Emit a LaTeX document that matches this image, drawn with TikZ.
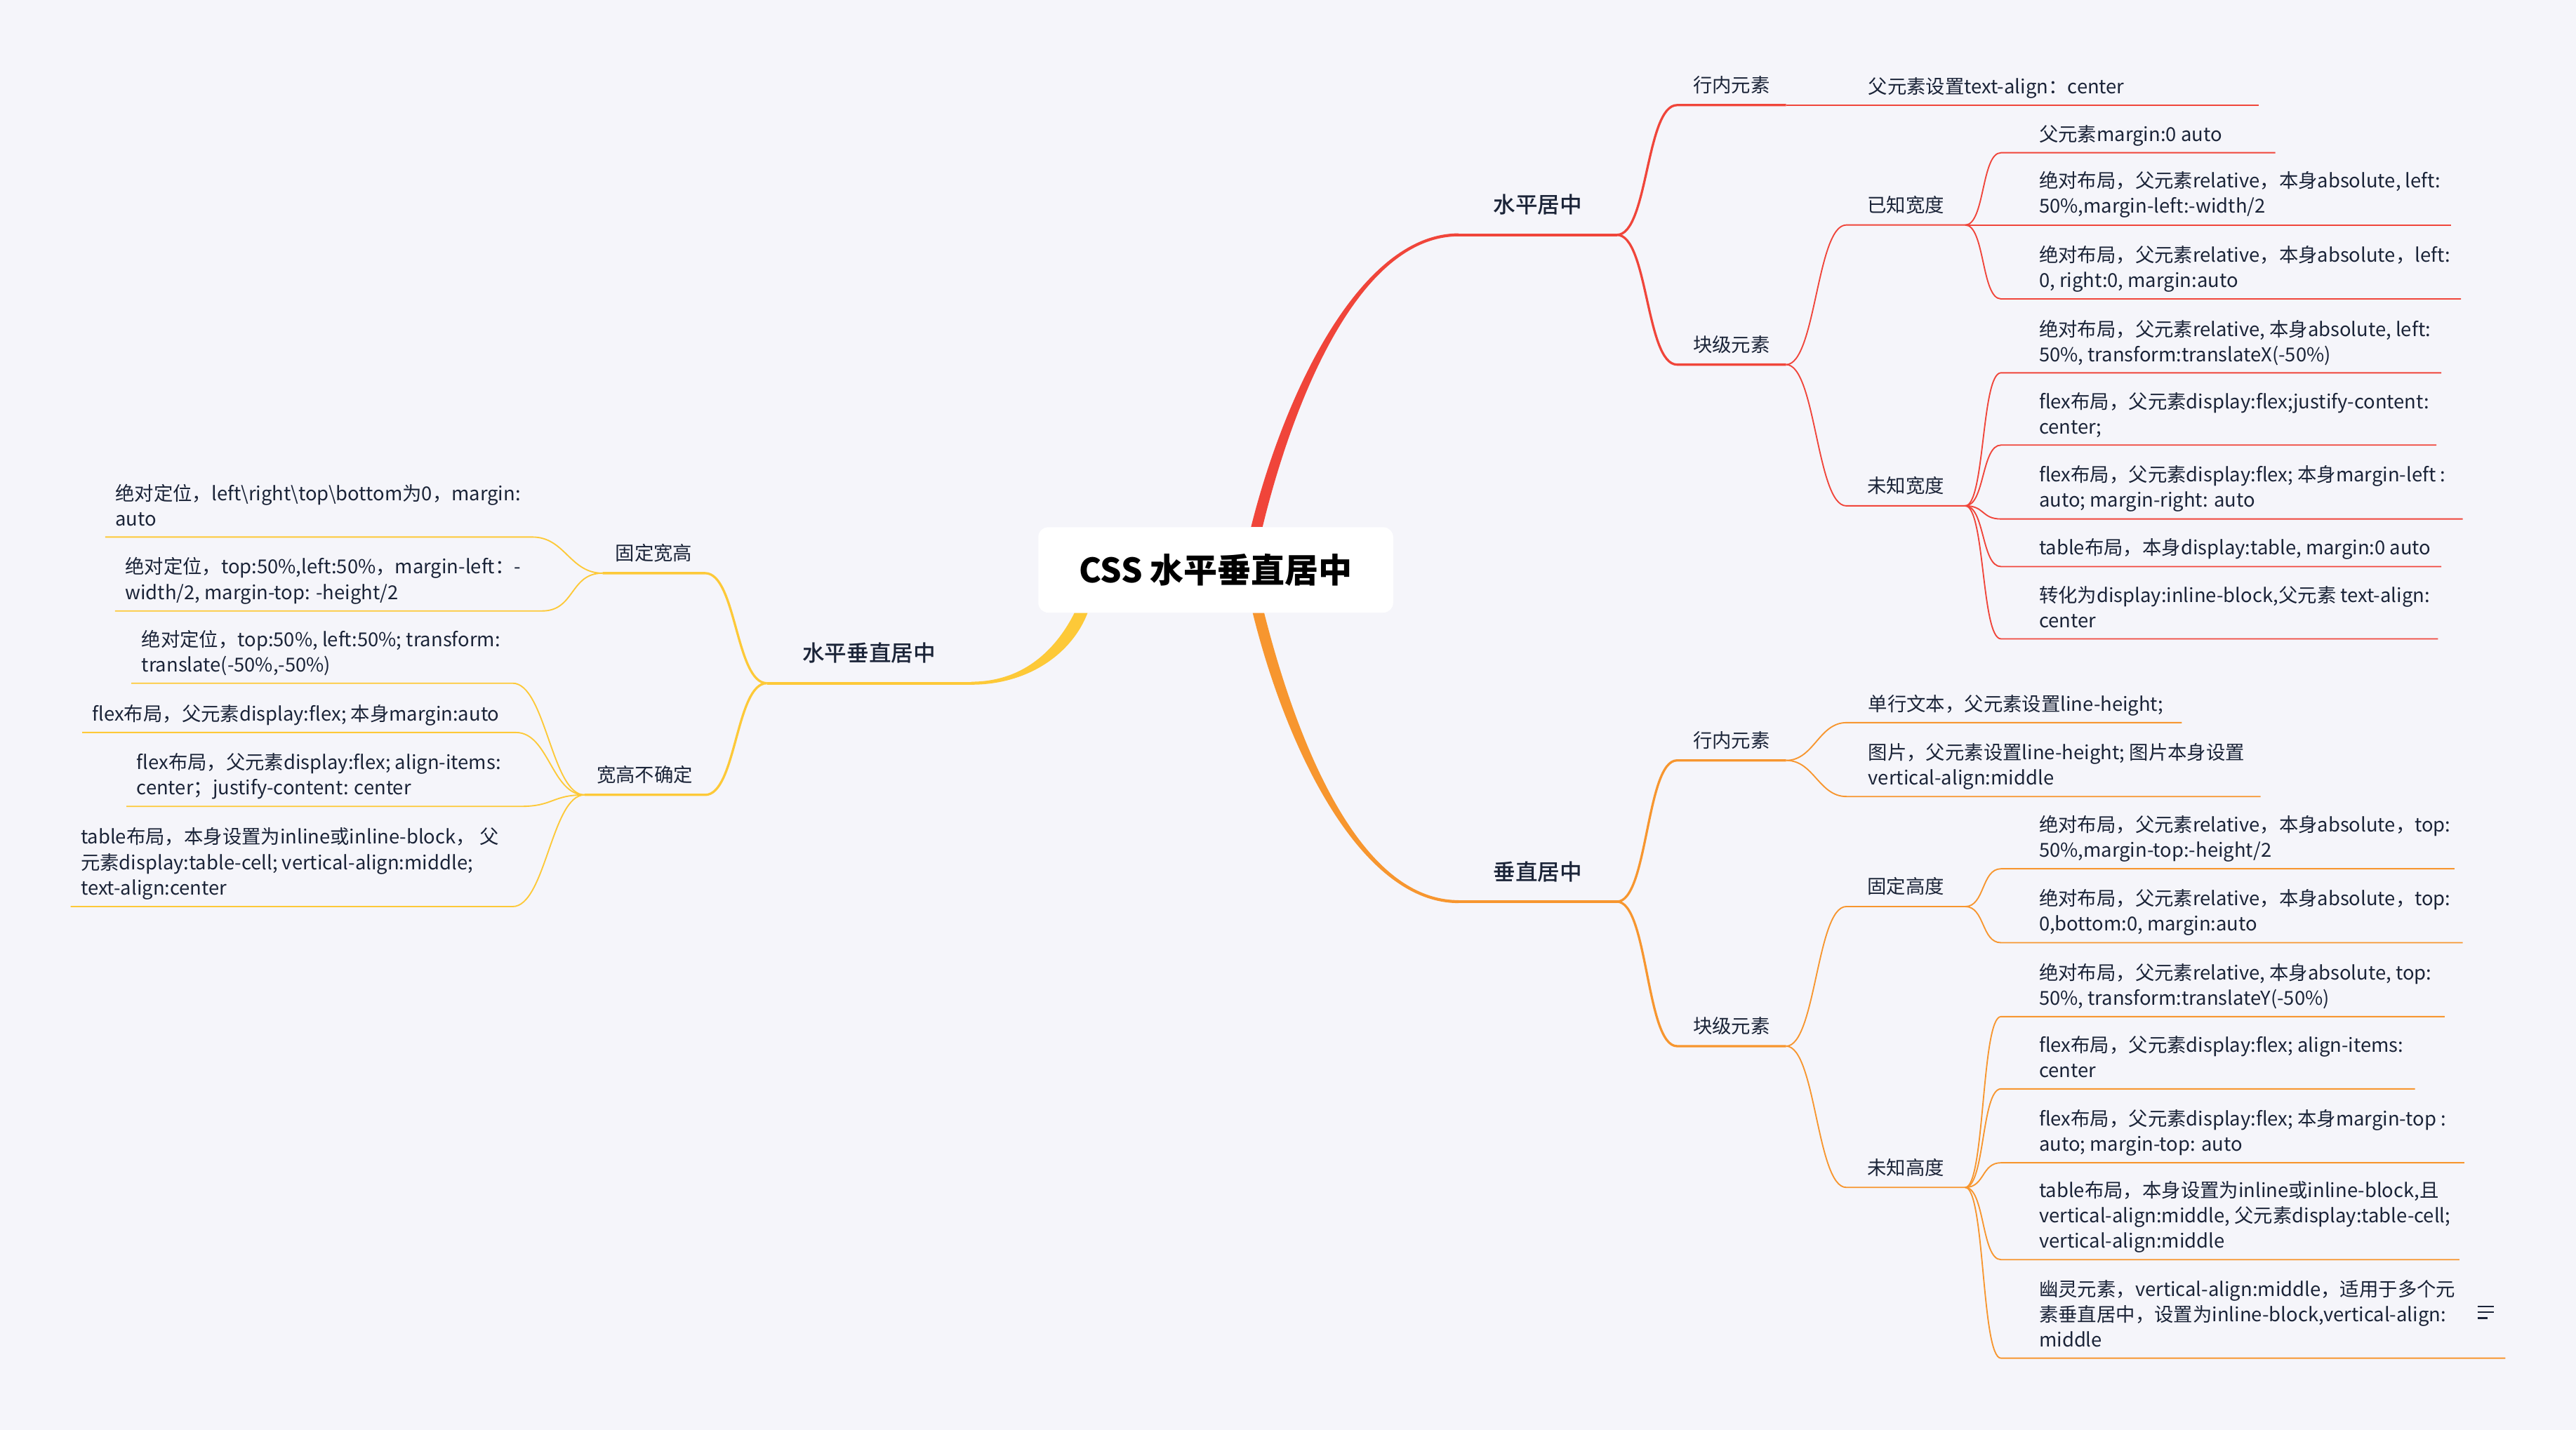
\documentclass[tikz,border=0pt]{standalone}
\usepackage{fontspec}
\setmainfont{Noto Sans CJK SC}
\newfontfamily\medfont{Noto Sans CJK SC Medium}
\definecolor{bgc}{HTML}{F5F5FA}
\definecolor{ink}{HTML}{1B2438}
\definecolor{hzc}{HTML}{F0453A}
\definecolor{vtc}{HTML}{F7962F}
\definecolor{btc}{HTML}{FDC938}
\tikzset{
  title/.style={fill=white, rounded corners=6pt, minimum width=216pt, minimum height=52pt, inner sep=0pt, text=black, font=\bfseries\fontsize{20.5}{24}\selectfont},
  topic/.style={anchor=south, minimum width=#1, inner xsep=0pt, inner ysep=10pt, text depth=3pt, text=ink, font=\medfont\fontsize{13.5}{16}\selectfont},
  subtopic/.style={anchor=south, minimum width=#1, inner xsep=0pt, inner ysep=5pt, text depth=2.5pt, text=ink, font=\fontsize{11.7}{14}\selectfont},
  leaf/.style={anchor=south west, align=left, inner xsep=0pt, inner ysep=4pt, text=ink, font=\fontsize{11.7}{15.5}\selectfont,
    execute at end node={\rule[-2.6pt]{0pt}{2.6pt}}},
  lv1/.style={line width=1.8pt},
  lv2/.style={line width=1.4pt},
  lv3/.style={line width=0.8pt}
}
\begin{document}
\begin{tikzpicture}[x=1pt, y=-1pt]
    \fill[bgc] (0,0) rectangle (1568,870.7);

    \node[title] (title) at (740,347) {CSS 水平垂直居中};
    \node[topic=96] (hz) at (936,143) {水平居中};
    \node[topic=96] (vt) at (936,549) {垂直居中};
    \node[topic=124] (bt) at (529,416) {水平垂直居中};

    \fill[hzc] ([xshift=21.5pt]title.north) .. controls (782,239) and (828,142.1) .. ([yshift=0.9pt]hz.south west)
        -- ([yshift=-0.9pt]hz.south west) .. controls (828,143.9) and (788,241) .. ([xshift=28.5pt]title.north) -- cycle;
    \fill[vtc] ([xshift=22.5pt]title.south) .. controls (783,456) and (828,549.9) .. ([yshift=-0.9pt]vt.south west)
        -- ([yshift=0.9pt]vt.south west) .. controls (828,548.1) and (790,454) .. ([xshift=29.5pt]title.south) -- cycle;
    \fill[btc] ([xshift=-86pt]title.south) .. controls (644,393) and (625,415.1) .. ([yshift=0.9pt]bt.south east)
        -- ([yshift=-0.9pt]bt.south east) .. controls (627,416.9) and (653,397) .. ([xshift=-78pt]title.south) -- cycle;
    \draw[lv1, hzc] (hz.south west) -- (hz.south east);
    \draw[lv1, vtc] (vt.south west) -- (vt.south east);
    \draw[lv1, btc] (bt.south west) -- (bt.south east);

    \node[subtopic=66] (hzi) at (1054,64) {行内元素};
    \node[subtopic=66] (hzb) at (1054,222) {块级元素};
    \node[subtopic=72] (hzk) at (1160,137) {已知宽度};
    \node[subtopic=72] (hzu) at (1160,308) {未知宽度};
    \draw[lv2, hzc] (hz.south east) .. controls +(19,0) and +(-19,0) .. (hzi.south west) -- (hzi.south east);
    \draw[lv2, hzc] (hz.south east) .. controls +(19,0) and +(-19,0) .. (hzb.south west) -- (hzb.south east);
    \draw[lv3, hzc] (hzb.south east) .. controls +(18,0) and +(-18,0) .. (hzk.south west) -- (hzk.south east);
    \draw[lv3, hzc] (hzb.south east) .. controls +(18,0) and +(-18,0) .. (hzu.south west) -- (hzu.south east);

    \node[leaf] (hzi1) at (1137,64) {父元素设置text-align：center};
    \node[leaf] (hzk1) at (1241,93) {父元素margin:0 auto};
    \node[leaf] (hzk2) at (1241,137) {绝对布局，父元素relative，本身absolute, left:\\50\%,margin-left:-width/2};
    \node[leaf] (hzk3) at (1241,182) {绝对布局，父元素relative，本身absolute，left:\\0, right:0, margin:auto};
    \node[leaf] (hzu1) at (1241,227) {绝对布局，父元素relative, 本身absolute, left:\\50\%, transform:translateX(-50\%)};
    \node[leaf] (hzu2) at (1241,271) {flex布局，父元素display:flex;justify-content:\\center;};
    \node[leaf] (hzu3) at (1241,316) {flex布局，父元素display:flex; 本身margin-left :\\auto; margin-right: auto};
    \node[leaf] (hzu4) at (1241,345) {table布局，本身display:table, margin:0 auto};
    \node[leaf] (hzu5) at (1241,389) {转化为display:inline-block,父元素 text-align:\\center};
    \draw[lv3, hzc] (hzi.south east) -- ([xshift=238pt]hzi1.south west);
    \draw[lv3, hzc] (hzk.south east) .. controls +(12,0) and +(-12,0) .. ([xshift=-23pt]hzk1.south west) -- ++(167,0);
    \draw[lv3, hzc] (hzk.south east) .. controls +(12,0) and +(-12,0) .. ([xshift=-23pt]hzk2.south west) -- ++(274,0);
    \draw[lv3, hzc] (hzk.south east) .. controls +(12,0) and +(-12,0) .. ([xshift=-23pt]hzk3.south west) -- ++(280,0);
    \draw[lv3, hzc] (hzu.south east) .. controls +(12,0) and +(-12,0) .. ([xshift=-23pt]hzu1.south west) -- ++(268,0);
    \draw[lv3, hzc] (hzu.south east) .. controls +(12,0) and +(-12,0) .. ([xshift=-23pt]hzu2.south west) -- ++(265,0);
    \draw[lv3, hzc] (hzu.south east) .. controls +(12,0) and +(-12,0) .. ([xshift=-23pt]hzu3.south west) -- ++(281,0);
    \draw[lv3, hzc] (hzu.south east) .. controls +(12,0) and +(-12,0) .. ([xshift=-23pt]hzu4.south west) -- ++(268,0);
    \draw[lv3, hzc] (hzu.south east) .. controls +(12,0) and +(-12,0) .. ([xshift=-23pt]hzu5.south west) -- ++(266,0);

    \node[subtopic=66] (vti) at (1054,463) {行内元素};
    \node[subtopic=66] (vtb) at (1054,637) {块级元素};
    \node[subtopic=72] (vtf) at (1160,552) {固定高度};
    \node[subtopic=72] (vtu) at (1160,723) {未知高度};
    \draw[lv2, vtc] (vt.south east) .. controls +(19,0) and +(-19,0) .. (vti.south west) -- (vti.south east);
    \draw[lv2, vtc] (vt.south east) .. controls +(19,0) and +(-19,0) .. (vtb.south west) -- (vtb.south east);
    \draw[lv3, vtc] (vtb.south east) .. controls +(18,0) and +(-18,0) .. (vtf.south west) -- (vtf.south east);
    \draw[lv3, vtc] (vtb.south east) .. controls +(18,0) and +(-18,0) .. (vtu.south west) -- (vtu.south east);

    \node[leaf] (vti1) at (1137,440) {单行文本，父元素设置line-height;};
    \node[leaf] (vti2) at (1137,485) {图片，父元素设置line-height; 图片本身设置\\vertical-align:middle};
    \node[leaf] (vtf1) at (1241,529) {绝对布局，父元素relative，本身absolute，top:\\50\%,margin-top:-height/2};
    \node[leaf] (vtf2) at (1241,574) {绝对布局，父元素relative，本身absolute，top:\\0,bottom:0, margin:auto};
    \node[leaf] (vtu1) at (1241,619) {绝对布局，父元素relative, 本身absolute, top:\\50\%, transform:translateY(-50\%)};
    \node[leaf] (vtu2) at (1241,663) {flex布局，父元素display:flex; align-items:\\center};
    \node[leaf] (vtu3) at (1241,708) {flex布局，父元素display:flex; 本身margin-top :\\auto; margin-top: auto};
    \node[leaf] (vtu4) at (1241,767) {table布局，本身设置为inline或inline-block,且\\vertical-align:middle, 父元素display:table-cell;\\vertical-align:middle};
    \node[leaf] (vtu5) at (1241,827) {幽灵元素，vertical-align:middle，适用于多个元\\素垂直居中，设置为inline-block,vertical-align:\\middle};
    \draw[lv3, vtc] (vti.south east) .. controls +(17,0) and +(-17,0) .. ([xshift=-13pt]vti1.south west) -- ++(204,0);
    \draw[lv3, vtc] (vti.south east) .. controls +(17,0) and +(-17,0) .. ([xshift=-13pt]vti2.south west) -- ++(252,0);
    \draw[lv3, vtc] (vtf.south east) .. controls +(12,0) and +(-12,0) .. ([xshift=-23pt]vtf1.south west) -- ++(276,0);
    \draw[lv3, vtc] (vtf.south east) .. controls +(12,0) and +(-12,0) .. ([xshift=-23pt]vtf2.south west) -- ++(281,0);
    \draw[lv3, vtc] (vtu.south east) .. controls +(12,0) and +(-12,0) .. ([xshift=-23pt]vtu1.south west) -- ++(270,0);
    \draw[lv3, vtc] (vtu.south east) .. controls +(12,0) and +(-12,0) .. ([xshift=-23pt]vtu2.south west) -- ++(252,0);
    \draw[lv3, vtc] (vtu.south east) .. controls +(12,0) and +(-12,0) .. ([xshift=-23pt]vtu3.south west) -- ++(282,0);
    \draw[lv3, vtc] (vtu.south east) .. controls +(12,0) and +(-12,0) .. ([xshift=-23pt]vtu4.south west) -- ++(279,0);
    \draw[lv3, vtc] (vtu.south east) .. controls +(12,0) and +(-12,0) .. ([xshift=-23pt]vtu5.south west) -- ++(307,0);
    \draw[ink, line width=1.1pt] (1508,795.5) -- (1518,795.5) (1508,799) -- (1518,799) (1508,802.5) -- (1514,802.5);

    \node[subtopic=62] (btf) at (398,349) {固定宽高};
    \node[subtopic=73] (btu) at (392.5,484) {宽高不确定};
    \draw[lv2, btc] (btf.south west) -- (btf.south east) .. controls +(19,0) and +(-19,0) .. (bt.south west);
    \draw[lv2, btc] (btu.south west) -- (btu.south east) .. controls +(19,0) and +(-19,0) .. (bt.south west);

    \node[leaf] (btf1) at (70,327) {绝对定位，left\textbackslash right\textbackslash top\textbackslash bottom为0，margin:\\auto};
    \node[leaf] (btf2) at (76,372) {绝对定位，top:50\%,left:50\%，margin-left：-\\width/2, margin-top: -height/2};
    \node[leaf] (btu1) at (86,416) {绝对定位，top:50\%, left:50\%; transform:\\translate(-50\%,-50\%)};
    \node[leaf] (btu2) at (56,446) {flex布局，父元素display:flex; 本身margin:auto};
    \node[leaf] (btu3) at (83,491) {flex布局，父元素display:flex; align-items:\\center；justify-content: center};
    \node[leaf] (btu4) at (49,552) {table布局，本身设置为inline或inline-block， 父\\元素display:table-cell; vertical-align:middle;\\text-align:center};
    \draw[lv3, btc] ([xshift=-6pt]btf1.south west) -- ++(260,0) .. controls +(20,0) and +(-20,0) .. (btf.south west);
    \draw[lv3, btc] ([xshift=-6pt]btf2.south west) -- ++(260,0) .. controls +(20,0) and +(-20,0) .. (btf.south west);
    \draw[lv3, btc] ([xshift=-6pt]btu1.south west) -- ++(232,0) .. controls +(20,0) and +(-20,0) .. (btu.south west);
    \draw[lv3, btc] ([xshift=-6pt]btu2.south west) -- ++(264,0) .. controls +(20,0) and +(-20,0) .. (btu.south west);
    \draw[lv3, btc] ([xshift=-6pt]btu3.south west) -- ++(240,0) .. controls +(20,0) and +(-20,0) .. (btu.south west);
    \draw[lv3, btc] ([xshift=-6pt]btu4.south west) -- ++(269,0) .. controls +(20,0) and +(-20,0) .. (btu.south west);
\end{tikzpicture}
\end{document}
